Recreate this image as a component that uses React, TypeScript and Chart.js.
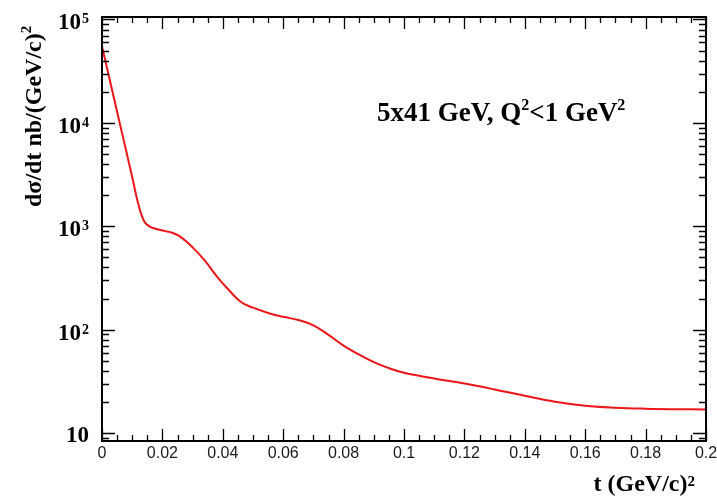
import React, { useEffect, useRef } from "react";
import { Chart, registerables } from "chart.js";

Chart.register(...registerables);

// t values (GeV/c)^2
const T_VALUES = [
  0, 0.005, 0.01, 0.012, 0.014, 0.016, 0.018, 0.02, 0.023, 0.026, 0.03, 0.034,
  0.038, 0.042, 0.046, 0.05, 0.055, 0.06, 0.065, 0.07, 0.075, 0.08, 0.085,
  0.09, 0.095, 0.1, 0.11, 0.12, 0.13, 0.14, 0.15, 0.16, 0.17, 0.18, 0.19, 0.2,
];
// dσ/dt in nb/(GeV/c)^2
const SIGMA = [
  55000, 12800, 3000, 1650, 1110, 985, 940, 910, 870, 790, 625, 468, 328, 242,
  185, 163, 145, 133, 124, 110, 89, 70, 57.5, 48.5, 42.4, 38.3, 33.6, 30.1,
  26.4, 22.9, 20.1, 18.4, 17.6, 17.2, 17.0, 16.9,
];

const X_MIN = 0;
const X_MAX = 0.2;
const X_MAJOR_STEP = 0.02;
const X_MINOR_STEP = 0.005;
const Y_MIN = 8.37;
const Y_MAX = 105700;
const Y_LABEL_EXPONENTS = [1, 2, 3, 4, 5];

const Y_TITLE = "dσ/dt nb/(GeV/c)";
const Y_TITLE_SUP = "2";
const X_TITLE = "t (GeV/c)";
const X_TITLE_SUP = "2";
const ANNOTATION = [
  { text: "5x41 GeV, Q", sup: false },
  { text: "2", sup: true },
  { text: "<1 GeV", sup: false },
  { text: "2", sup: true },
];

const SERIF = '"Liberation Serif", "Times New Roman", serif';

function fmtTick(v: number): string {
  const r = parseFloat(v.toFixed(4));
  return String(r);
}

const framePlugin = {
  id: "rootFrame",
  afterDatasetsDraw(chart: any) {
    const ctx = chart.ctx as CanvasRenderingContext2D;
    const { left, right, top, bottom } = chart.chartArea;
    const xs = chart.scales.x;
    const ys = chart.scales.y;
    ctx.save();
    ctx.strokeStyle = "#000";
    // ticks
    ctx.lineWidth = 1.3;
    ctx.beginPath();
    const nx = Math.round((X_MAX - X_MIN) / X_MINOR_STEP);
    const ratio = Math.round(X_MAJOR_STEP / X_MINOR_STEP);
    for (let i = 0; i <= nx; i++) {
      const v = X_MIN + i * X_MINOR_STEP;
      const px = Math.round(xs.getPixelForValue(v)) + 0.5;
      const len = i % ratio === 0 ? 12 : 6;
      ctx.moveTo(px, bottom);
      ctx.lineTo(px, bottom - len);
      ctx.moveTo(px, top);
      ctx.lineTo(px, top + len);
    }
    for (let d = 0; d <= 5; d++) {
      for (let m = 1; m <= 9; m++) {
        const v = m * Math.pow(10, d);
        if (v < Y_MIN || v > Y_MAX) continue;
        const py = Math.round(ys.getPixelForValue(v)) + 0.5;
        const len = m === 1 ? 13 : 7;
        ctx.moveTo(left, py);
        ctx.lineTo(left + len, py);
        ctx.moveTo(right, py);
        ctx.lineTo(right - len, py);
      }
    }
    ctx.stroke();
    // frame
    ctx.lineWidth = 2;
    ctx.strokeRect(left, top, right - left, bottom - top);

    // y tick labels
    ctx.fillStyle = "#000";
    ctx.textBaseline = "alphabetic";
    ctx.textAlign = "right";
    const labelRight = left - 13;
    for (const e of Y_LABEL_EXPONENTS) {
      const py = ys.getPixelForValue(Math.pow(10, e));
      if (e === 1) {
        ctx.font = `bold 23px ${SERIF}`;
        ctx.fillText("10", labelRight, py + 9);
      } else {
        ctx.font = `bold 14px ${SERIF}`;
        const sup = String(e);
        const w = ctx.measureText(sup).width;
        ctx.fillText(sup, labelRight, py + 4);
        ctx.font = `bold 23px ${SERIF}`;
        ctx.fillText("10", labelRight - w - 1, py + 10);
      }
    }

    // annotation
    ctx.textAlign = "left";
    let ax = 377;
    const ab = 121;
    for (const seg of ANNOTATION) {
      if (seg.sup) {
        ctx.font = `bold 16px ${SERIF}`;
        ctx.fillText(seg.text, ax, ab - 11);
      } else {
        ctx.font = `bold 27px ${SERIF}`;
        ctx.fillText(seg.text, ax, ab);
      }
      ax += ctx.measureText(seg.text).width;
    }

    // x title
    ctx.textAlign = "right";
    ctx.font = `bold 15px ${SERIF}`;
    const xsw = ctx.measureText(X_TITLE_SUP).width;
    ctx.fillText(X_TITLE_SUP, 695, 486);
    ctx.font = `bold 24px ${SERIF}`;
    ctx.fillText(X_TITLE, 695 - xsw, 491);

    // y title (rotated)
    ctx.save();
    ctx.translate(41, 207);
    ctx.rotate(-Math.PI / 2);
    ctx.textAlign = "left";
    ctx.font = `bold 24px ${SERIF}`;
    ctx.fillText(Y_TITLE, 0, 0);
    const yw = ctx.measureText(Y_TITLE).width;
    ctx.font = `bold 15px ${SERIF}`;
    ctx.fillText(Y_TITLE_SUP, yw, -10);
    ctx.restore();

    ctx.restore();
  },
};

export default function App() {
  const ref = useRef<HTMLCanvasElement | null>(null);
  useEffect(() => {
    document.body.style.margin = "0";
    const canvas = ref.current;
    if (!canvas) return;
    const points = T_VALUES.map((t, i) => ({ x: t, y: SIGMA[i] }));
    const chart = new Chart(canvas, {
      type: "line",
      data: {
        datasets: [
          {
            data: points,
            borderColor: "rgb(236, 22, 24)",
            borderWidth: 2,
            pointRadius: 0,
            fill: false,
            tension: 0.4,
          },
        ],
      },
      options: {
        animation: false,
        responsive: false,
        devicePixelRatio: 1,
        layout: { padding: { left: 102, top: 17, right: 11, bottom: 0 } },
        plugins: {
          legend: { display: false },
          tooltip: { enabled: false },
        },
        scales: {
          x: {
            type: "linear",
            min: X_MIN,
            max: X_MAX,
            grid: { display: false, drawTicks: false },
            border: { display: false },
            ticks: {
              stepSize: X_MAJOR_STEP,
              padding: 3,
              color: "#1a1a1a",
              font: { family: '"Liberation Sans", Arial, sans-serif', size: 16 },
              maxRotation: 0,
              autoSkip: false,
              callback: (v: any) => fmtTick(Number(v)),
            },
            afterFit: (s: any) => {
              s.height = 57;
              s.paddingLeft = 0;
              s.paddingRight = 0;
            },
          },
          y: {
            type: "logarithmic",
            min: Y_MIN,
            max: Y_MAX,
            display: false,
          },
        },
      },
      plugins: [framePlugin],
    } as any);
    return () => chart.destroy();
  }, []);
  return (
    <div style={{ width: 717, height: 498, background: "#fff" }}>
      <canvas ref={ref} width={717} height={498} style={{ display: "block" }} />
    </div>
  );
}
